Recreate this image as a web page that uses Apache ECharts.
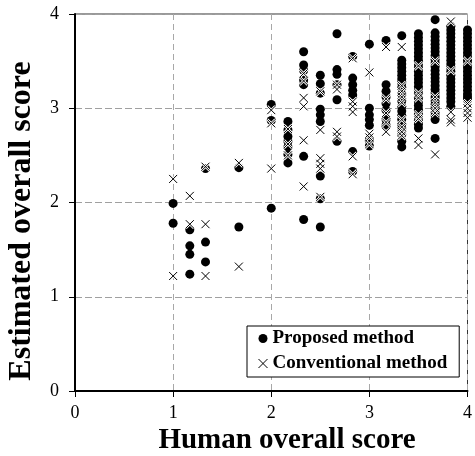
<!DOCTYPE html>
<html>
<head>
<meta charset="utf-8">
<script src="https://cdn.jsdelivr.net/npm/echarts@6/dist/echarts.min.js"></script>
<style>
html,body{margin:0;padding:0;background:#fff;}
#chart{width:475px;height:456px;}
</style>
</head>
<body>
<div id="chart"></div>
<script>
// Human overall score columns (x positions)
const humanScores = [1.00, 1.17, 1.33, 1.67, 2.00, 2.17, 2.33, 2.50, 2.67, 2.83, 3.00, 3.17, 3.33, 3.50, 3.67, 3.83, 4.00];

// Estimated scores, proposed method (one list per human score column)
const proposedScores = [
  [1.99, 1.78],
  [1.71, 1.54, 1.45, 1.24],
  [2.36, 1.58, 1.37],
  [2.37, 1.74],
  [3.04, 2.87, 1.94],
  [2.86, 2.77, 2.70, 2.65, 2.59, 2.51, 2.42],
  [3.60, 3.46, 3.40, 3.30, 3.25, 2.49, 1.82],
  [3.35, 3.26, 3.16, 2.99, 2.93, 2.86, 2.28, 2.04, 1.74],
  [3.79, 3.41, 3.36, 3.25, 3.09, 2.65],
  [3.55, 3.32, 3.25, 3.19, 3.14, 2.54, 2.33],
  [3.68, 3.00, 2.93, 2.88, 2.82, 2.66, 2.60],
  [3.72, 3.25, 3.18, 3.12, 3.05, 2.98, 2.88, 2.82],
  [3.77, 3.51, 3.47, 3.43, 3.39, 3.35, 3.31, 3.27, 3.22, 3.15, 3.08, 3.02, 2.97, 2.92, 2.88, 2.83, 2.78, 2.72, 2.65, 2.59],
  [3.79, 3.75, 3.71, 3.67, 3.63, 3.59, 3.55, 3.51, 3.47, 3.43, 3.39, 3.35, 3.31, 3.27, 3.23, 3.19, 3.15, 3.11, 3.07, 3.03, 2.99, 2.95, 2.91, 2.87, 2.83, 2.79],
  [3.94, 3.80, 3.76, 3.72, 3.68, 3.64, 3.60, 3.56, 3.52, 3.48, 3.44, 3.40, 3.36, 3.32, 3.28, 3.24, 3.20, 3.16, 3.12, 3.08, 3.04, 3.00, 2.96, 2.92, 2.88, 2.68],
  [3.87, 3.83, 3.79, 3.75, 3.71, 3.67, 3.63, 3.59, 3.55, 3.51, 3.47, 3.43, 3.39, 3.35, 3.31, 3.27, 3.23, 3.19, 3.15, 3.11, 3.07, 3.02],
  [3.83, 3.79, 3.75, 3.71, 3.67, 3.63, 3.59, 3.55, 3.51, 3.47, 3.43, 3.39, 3.35, 3.31, 3.27, 3.23, 3.19, 3.15, 3.12, 3.09]
];

// Estimated scores, conventional method
const conventionalScores = [
  [2.25, 1.22],
  [2.07, 1.77],
  [2.38, 1.77, 1.22],
  [2.42, 1.32],
  [2.98, 2.84, 2.36],
  [2.78, 2.62, 2.50],
  [3.37, 3.29, 3.11, 3.02, 2.66, 2.17],
  [3.18, 2.77, 2.47, 2.41, 2.36, 2.06],
  [3.25, 3.20, 2.75, 2.70],
  [3.53, 3.07, 3.02, 2.96, 2.49, 2.30],
  [3.38, 2.73, 2.69, 2.62],
  [3.65, 3.10, 2.95, 2.85, 2.75],
  [3.65, 3.24, 3.18, 3.12, 3.06, 2.88, 2.80, 2.75, 2.71],
  [3.45, 3.16, 3.11, 2.93, 2.89, 2.68, 2.61],
  [3.50, 3.12, 3.06, 3.00, 2.95, 2.51],
  [3.92, 3.40, 2.96, 2.88, 2.85],
  [3.50, 3.05, 3.00, 2.95, 2.90]
];

const axisTicks = [0, 1, 2, 3, 4];
const seriesNames = ['Proposed method', 'Conventional method'];
const xTitle = 'Human overall score';
const yTitle = 'Estimated overall score';

function toPoints(cols) {
  const out = [];
  cols.forEach((ys, i) => ys.forEach(y => out.push([humanScores[i], y])));
  return out;
}

const SERIF = '"Liberation Serif", "Times New Roman", serif';
const crossPath = 'path://M0,0L10,10M0,10L10,0';

const chart = echarts.init(document.getElementById('chart'), null, {renderer: 'canvas'});
const grid = {left: 75, top: 14, right: 4, bottom: 65};
const splitStyleX = {show: true, lineStyle: {color: '#a8a8a8', type: [6, 4], width: 1}};
const splitStyleY = {show: true, lineStyle: {color: '#a0a0a0', type: [7, 3], width: 1}};
const conventionalPoints = toPoints(conventionalScores);

chart.setOption({
  animation: false,
  backgroundColor: '#fff',
  grid: Object.assign({show: true, borderColor: '#333', borderWidth: 1, backgroundColor: 'transparent'}, grid),
  xAxis: {
    type: 'value', min: axisTicks[0], max: axisTicks[axisTicks.length - 1], interval: 1,
    axisLine: {show: true, onZero: false, lineStyle: {color: '#000', width: 2}},
    axisTick: {show: true, inside: false, length: 6, lineStyle: {color: '#000', width: 1}},
    axisLabel: {color: '#000', fontFamily: SERIF, fontSize: 18, margin: 13},
    splitLine: splitStyleX
  },
  yAxis: {
    type: 'value', min: axisTicks[0], max: axisTicks[axisTicks.length - 1], interval: 1,
    axisLine: {show: true, onZero: false, lineStyle: {color: '#000', width: 2}},
    axisTick: {show: true, inside: false, length: 6, lineStyle: {color: '#000', width: 1}},
    axisLabel: {color: '#000', fontFamily: SERIF, fontSize: 18, margin: 16},
    splitLine: splitStyleY
  },
  legend: {
    orient: 'vertical', left: 247, top: 326,
    width: 213,
    padding: [3, 12, 4, 11],
    itemGap: 6, itemWidth: 9, itemHeight: 9,
    borderColor: '#000', borderWidth: 1, backgroundColor: '#fff',
    textStyle: {color: '#000', fontFamily: SERIF, fontWeight: 'bold', fontSize: 19, lineHeight: 19},
    data: [
      {name: seriesNames[0], icon: 'circle'},
      {name: seriesNames[1], icon: crossPath, itemStyle: {color: 'rgba(0,0,0,0)', borderColor: '#000', borderWidth: 1}}
    ]
  },
  graphic: [
    {type: 'text', x: 287, y: 441, style: {text: xTitle, font: 'bold 29px ' + SERIF, fill: '#000', align: 'center', verticalAlign: 'middle'}},
    {type: 'text', x: 22, y: 221, rotation: Math.PI / 2, style: {text: yTitle, font: 'bold 32px ' + SERIF, fill: '#000', align: 'center', verticalAlign: 'middle'}}
  ],
  series: [
    {
      name: seriesNames[0], type: 'scatter', symbol: 'circle', symbolSize: 9,
      itemStyle: {color: '#000', opacity: 1},
      data: toPoints(proposedScores), z: 2
    },
    {
      name: 'halo', type: 'scatter', symbol: crossPath, symbolSize: 8, silent: true,
      itemStyle: {color: 'rgba(0,0,0,0)', borderColor: '#fff', borderWidth: 2.5, opacity: 1},
      data: conventionalPoints, z: 3
    },
    {
      name: seriesNames[1], type: 'scatter', symbol: crossPath, symbolSize: 8,
      itemStyle: {color: 'rgba(0,0,0,0)', borderColor: '#000', borderWidth: 1, opacity: 1},
      data: conventionalPoints, z: 4
    }
  ]
});
</script>
</body>
</html>
